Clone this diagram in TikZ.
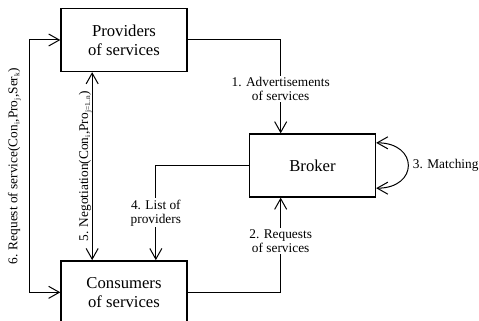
\documentclass[tikz,border=0pt]{standalone}
\usepackage{fontspec}
\setmainfont{Liberation Serif}
\usetikzlibrary{arrows.meta, calc, positioning}
\newcommand{\idx}[1]{\textsubscript{\fontsize{5.5}{6}\selectfont #1}}
\tikzset {
    block/.style = {
        draw,
        shape = rectangle,
        line width=1pt,
        minimum width=94.5pt,
        minimum height=47.25pt,
        align=center,
        font=\fontsize{12.5}{14.5}\selectfont
    },
    steplabel/.style = {
        fill=white,
        align=center,
        inner sep=1pt,
        font=\fontsize{10}{10.5}\selectfont
    },
    sidelabel/.style = {
        rotate=90,
        anchor=south,
        inner sep=#1,
        font=\fontsize{10}{11}\selectfont
    },
    link/.style = {
        draw,
        line width=0.75pt
    }
}

\begin{document}
\begin{tikzpicture}[x=0.75pt, y=-0.75pt, node distance=141pt,
        >={Straight Barb[length=8pt, width=9pt]}]
        \useasboundingbox (0, 0) rectangle (479, 321);
        \clip (0, 0) rectangle (479, 321);

        % Boxes : providers, consumers, broker
        \node [block] at (124, 40)          (prov)      {Providers\\of services};
        \node [block, below=of prov]        (cons)      {Consumers\\of services};
        \node [block] at (312.5, 165.5)     (broker)    {Broker};

        % Free ends on the box borders
        \coordinate (advin)   at ($(broker.north west)!0.25!(broker.north east)$);
        \coordinate (reqin)   at ($(broker.south west)!0.25!(broker.south east)$);
        \coordinate (listin)  at ($(cons.north west)!0.75!(cons.north east)$);
        \coordinate (negtop)  at ($(prov.south west)!0.25!(prov.south east)$);
        \coordinate (negbot)  at ($(cons.north west)!0.25!(cons.north east)$);

        \path [link, ->]    (prov.east)     -|  node [steplabel, pos=0.76] {1. Advertisements\\of services} (advin);
        \path [link, ->]    (cons.east)     -|  node [steplabel, pos=0.77] {2. Requests\\of services} (reqin);
        \path [link, <->]   ([yshift=17pt]broker.east) to [out=0, in=0, looseness=2.4]
                            node [right, font=\fontsize{10}{11}\selectfont] {3. Matching} ([yshift=-17pt]broker.east);
        \path [link, ->]    (broker.west)   -|  node [steplabel, pos=0.75] {4. List of\\providers} (listin);
        \path [link, <->]   (negtop)        --  node [sidelabel=4pt, yshift=-4pt] {5. Negotiation(Con\idx{i},Pro\idx{j=1..n})} (negbot);
        \path [link, <->]   (prov.west)     --  ++(-31, 0)
                            |-  node [sidelabel=6pt, pos=0.25] {6. Request of service(Con\idx{i},Pro\idx{j},Ser\idx{k})} (cons.west);
\end{tikzpicture}
\end{document}
